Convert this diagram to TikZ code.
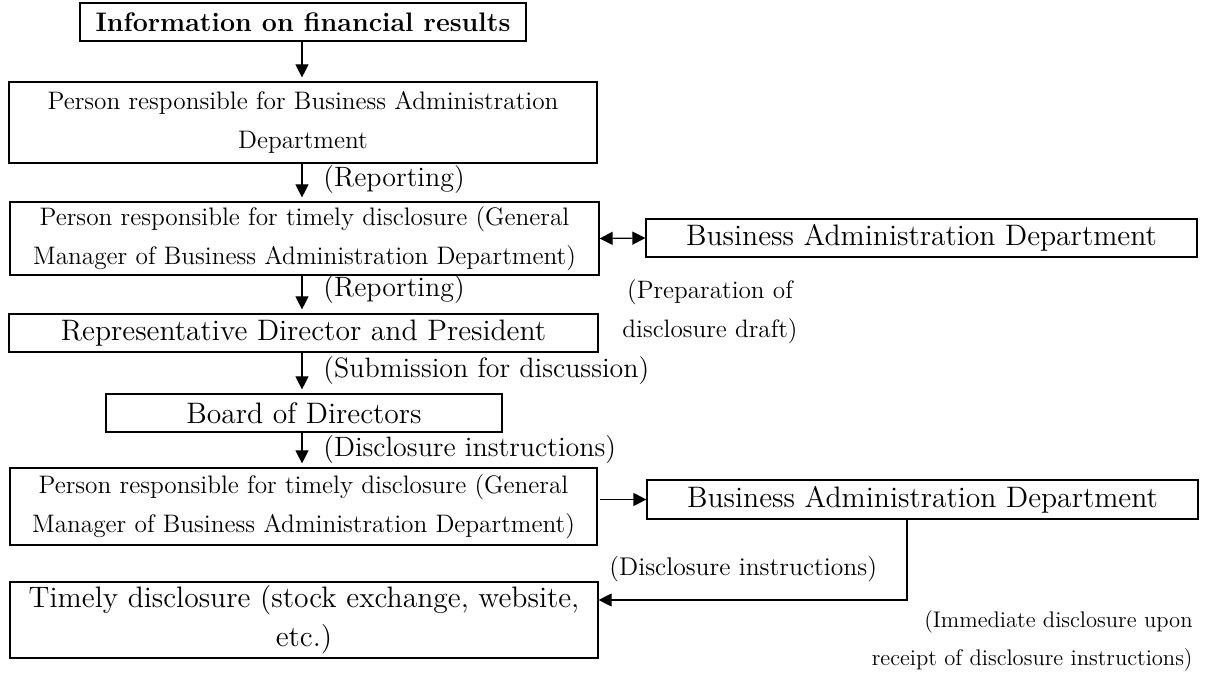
\documentclass[tikz,border=0pt]{standalone}
\usetikzlibrary{arrows.meta}
\begin{document}
\begin{tikzpicture}[x=0.5pt,y=-0.5pt,
  box/.style={draw,line width=0.6pt,inner sep=0pt,align=center},
  bigf/.style={font=\fontsize{14.8}{19.5}\selectfont},
  smallf/.style={font=\fontsize{12.65}{19.5}\selectfont},
  lbl/.style={inner sep=0pt,anchor=west,font=\fontsize{14}{19.5}\selectfont},
  note/.style={inner sep=0pt,align=center,font=\fontsize{12.6}{19.5}\selectfont},
  arr/.style={line width=0.6pt,-{Triangle[length=6.5pt,width=6.5pt]}},
  dbl/.style={line width=0.6pt,{Triangle[length=6.5pt,width=6.5pt]}-{Triangle[length=6.5pt,width=6.5pt]}}]
\useasboundingbox (0,0) rectangle (1205,673);
% boxes
\node[box,minimum width=223pt,minimum height=19pt,font=\bfseries\fontsize{13.4}{16}\selectfont] (info) at (303,22) {Information on financial results};
\node[box,smallf,minimum width=294pt,minimum height=40.5pt] (bap) at (303,122.5) {Person responsible for Business Administration\\Department};
\node[box,smallf,minimum width=294.5pt,minimum height=36.5pt] (td1) at (304.5,238.5) {Person responsible for timely disclosure (General\\Manager of Business Administration Department)};
\node[box,bigf,minimum width=294.5pt,minimum height=19pt] (rep) at (303.5,333) {Representative Director and President};
\node[box,bigf,minimum width=198pt,minimum height=19pt] (board) at (304,413) {Board of Directors};
\node[box,smallf,minimum width=293.5pt,minimum height=38.5pt] (td2) at (303.5,506.5) {Person responsible for timely disclosure (General\\Manager of Business Administration Department)};
\node[box,bigf,minimum width=294pt,minimum height=38pt] (timely) at (304,620) {Timely disclosure (stock exchange, website,\\etc.)};
\node[box,bigf,minimum width=275.5pt,minimum height=19pt] (bad1) at (921.5,238) {Business Administration Department};
\node[box,bigf,minimum width=275.5pt,minimum height=19.5pt] (bad2) at (922.5,499.5) {Business Administration Department};
% labels
\node[lbl] (l1) at (323,180) {(Reporting)};
\node[lbl] (l2) at (323,290) {(Reporting)};
\node[lbl] (l3) at (323,371) {(Submission for discussion)};
\node[lbl] (l4) at (323,450) {(Disclosure instructions)};
\node[note] (prep) at (710,311.5) {(Preparation of\\disclosure draft)};
\node[inner sep=0pt,anchor=west,font=\fontsize{12.8}{19.5}\selectfont] (l5) at (609,569) {(Disclosure instructions)};
\node[inner sep=0pt,anchor=east,align=right,font=\fontsize{11.3}{19}\selectfont] (imm) at (1193,641) {(Immediate disclosure upon\\receipt of disclosure instructions)};
% connectors
\coordinate (col) at (302,0);
\draw[arr,shorten >=2pt] (info.south -| col) -- (bap.north -| col);
\draw[arr,shorten >=2pt] (bap.south -| col) -- (td1.north -| col);
\draw[arr,shorten >=2pt] (td1.south -| col) -- (rep.north -| col);
\draw[arr,shorten >=2pt] (rep.south -| col) -- (board.north -| col);
\draw[arr,shorten >=2pt] (board.south -| col) -- (td2.north -| col);
\draw[dbl] (td1.east) -- (bad1.west);
\draw[arr,shorten <=1pt] (td2.east |- bad2.west) -- (bad2.west);
\coordinate (turn) at (907,600);
\draw[arr] (bad2.south -| turn) -- (turn) -- (timely.east |- turn);
\end{tikzpicture}
\end{document}
